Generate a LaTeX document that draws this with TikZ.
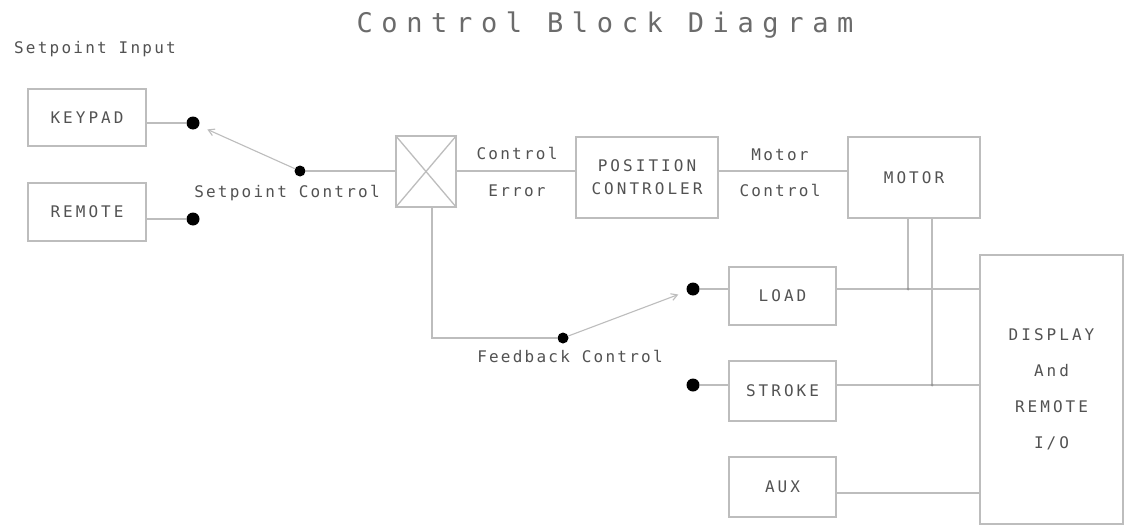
\documentclass[tikz,border=0pt]{standalone}
\usepackage{fontspec}
\newfontfamily\cadfont[LetterSpace=14]{DejaVu Sans Mono}
\newfontfamily\cadbox[LetterSpace=19]{DejaVu Sans Mono}
\newfontfamily\cadtitle[LetterSpace=32]{DejaVu Sans Mono}
\usetikzlibrary{arrows.meta}
\definecolor{wirec}{gray}{0.74}
\definecolor{textc}{gray}{0.32}
\definecolor{titlec}{gray}{0.42}
\begin{document}
\begin{tikzpicture}[x=1pt,y=-1pt,
  blk/.style={draw=wirec, line width=1.3pt, inner sep=0pt, text=textc,
    font={\cadbox\fontsize{16}{23}\selectfont}, align=center},
  lbl/.style={text=textc, inner sep=0pt, anchor=base,
    font={\cadfont\fontsize{16}{20}\selectfont}},
  wire/.style={draw=wirec, line width=1.3pt},
  swline/.style={draw=wirec, line width=1.1pt, shorten >=9pt,
    -{Straight Barb[length=6pt,width=7pt]}},
  bigdot/.style={circle, fill=black, inner sep=0pt, minimum size=13pt},
  jdot/.style={circle, fill=wirec!80!black, inner sep=0pt, minimum size=3pt}]
\useasboundingbox[fill=white] (0,0) rectangle (1134,527);

% title and labels
\node[text=titlec, inner sep=0pt, anchor=base, font={\cadtitle\fontsize{27}{30}\selectfont}] (title) at (605,33) {Control Block Diagram};
\node[lbl] (spin) at (95,53) {Setpoint Input};
\node[lbl] (spctl) at (287,197) {Setpoint Control};
\node[lbl] (ctl1) at (517,159) {Control};
\node[lbl] (err) at (517,196) {Error};
\node[lbl] (mot1) at (780,160) {Motor};
\node[lbl] (mot2) at (780,196) {Control};
\node[lbl] (fbctl) at (570,362) {Feedback Control};

% blocks
\node[blk, minimum width=118pt, minimum height=57pt] (keypad) at (87,117.5) {KEYPAD};
\node[blk, minimum width=118pt, minimum height=58pt] (remote) at (87,212) {REMOTE};
\node[blk, minimum width=60pt, minimum height=71pt] (xbox) at (426,171.5) {};
\node[blk, minimum width=142pt, minimum height=81pt] (pos) at (647,177.5) {POSITION\\CONTROLER};
\node[blk, minimum width=132pt, minimum height=81pt] (motor) at (914,177.5) {MOTOR};
\node[blk, minimum width=107pt, minimum height=58pt] (load) at (782.5,296) {LOAD};
\node[blk, minimum width=107pt, minimum height=60pt] (stroke) at (782.5,391) {STROKE};
\node[blk, minimum width=107pt, minimum height=60pt] (aux) at (782.5,487) {AUX};
\node[blk, minimum width=143pt, minimum height=269pt,
  font={\cadbox\fontsize{16}{36}\selectfont}] (disp) at (1051.5,389.5) {DISPLAY\\And\\REMOTE\\I/O};

% switch contacts
\node[bigdot] (kdot) at (193,123) {};
\node[bigdot] (rdot) at (193,219) {};
\node[bigdot, minimum size=11pt] (spiv) at (300,171) {};
\node[bigdot, minimum size=11pt] (fpiv) at (563,338) {};
\node[bigdot] (ldot) at (693,289) {};
\node[bigdot] (sdot) at (693,385) {};

% summing junction cross
\draw[wire] (xbox.north west) -- (xbox.south east);
\draw[wire] (xbox.north east) -- (xbox.south west);

% connectors
\draw[wire] (keypad.east |- kdot) -- (kdot);
\draw[wire] (remote.east |- rdot) -- (rdot);
\draw[swline] (spiv) -- (kdot);
\draw[wire] (spiv) -- (spiv -| xbox.west);
\draw[wire] (xbox.east |- spiv) -- (pos.west |- spiv);
\draw[wire] (pos.east |- spiv) -- (motor.west |- spiv);
\draw[wire] ([xshift=6pt]xbox.south) |- (fpiv);
\draw[swline] (fpiv) -- (ldot);
\draw[wire] (ldot) -- (load.west |- ldot);
\draw[wire] (sdot) -- (stroke.west |- sdot);
\draw[wire] (load.east |- ldot) -- (disp.west |- ldot);
\draw[wire] (stroke.east |- sdot) -- (disp.west |- sdot);
\draw[wire] ([yshift=-6pt]aux.east) -- ([yshift=-6pt]aux.east -| disp.west);
\coordinate (j1) at ([xshift=-6pt]motor.south |- ldot);
\coordinate (j2) at ([xshift=18pt]motor.south |- sdot);
\draw[wire] ([xshift=-6pt]motor.south) -- (j1);
\draw[wire] ([xshift=18pt]motor.south) -- (j2);
\node[jdot] at (j1) {};
\node[jdot] at (j2) {};
\end{tikzpicture}
\end{document}
